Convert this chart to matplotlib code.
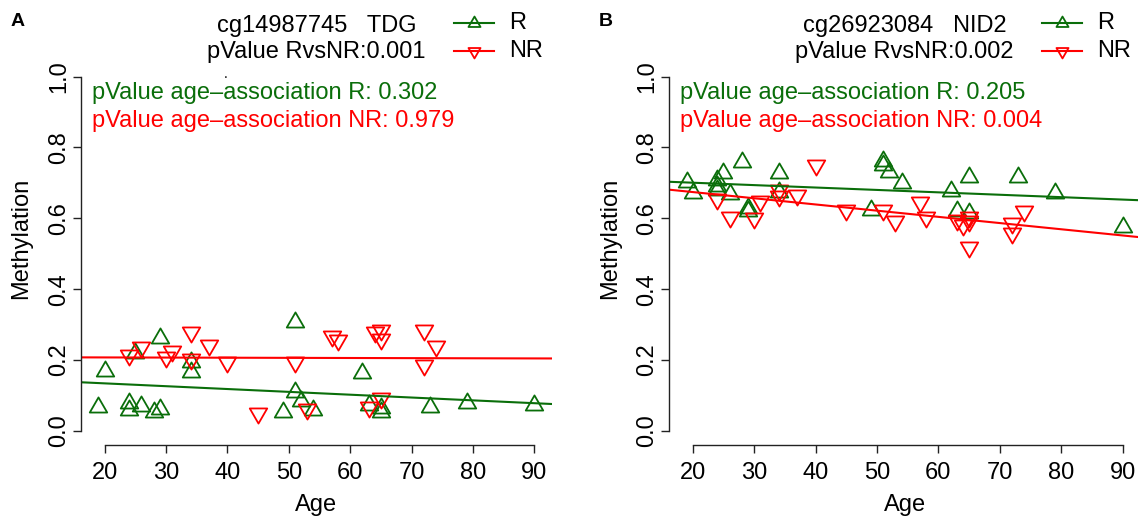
import numpy as np
import matplotlib
matplotlib.use("Agg")
import matplotlib.pyplot as plt
from matplotlib.path import Path
from matplotlib.lines import Line2D

plt.rcParams['font.family'] = ['Liberation Sans', 'DejaVu Sans']

# Panel A: cg14987745 TDG
ages_A_R = [19, 20, 24, 24, 25, 26, 28, 29, 29, 34, 34, 49, 51, 51, 52, 54, 62, 63, 65, 65, 73, 79, 90]
meth_A_R = [0.066, 0.170, 0.078, 0.059, 0.220, 0.069, 0.052, 0.063, 0.262, 0.193, 0.167, 0.052,
            0.308, 0.110, 0.085, 0.059, 0.163, 0.073, 0.052, 0.065, 0.068, 0.078, 0.074]
ages_A_NR = [24, 26, 30, 31, 34, 34, 37, 40, 45, 51, 53, 57, 58, 64, 65, 65, 63, 65, 72, 74, 72]
meth_A_NR = [0.214, 0.236, 0.207, 0.226, 0.280, 0.203, 0.242, 0.193, 0.050, 0.193, 0.061,
             0.267, 0.257, 0.280, 0.286, 0.259, 0.066, 0.094, 0.286, 0.240, 0.186]
fit_A_R = (0.150, -0.00080)    # intercept, slope
fit_A_NR = (0.208, -0.00004)

# Panel B: cg26923084 NID2
ages_B_R = [19, 20, 25, 24, 24, 24, 26, 28, 29, 29, 34, 34, 51, 51, 52, 54, 49, 62, 65, 63, 65, 73, 79, 90]
meth_B_R = [0.703, 0.670, 0.728, 0.707, 0.690, 0.681, 0.669, 0.759, 0.621, 0.630, 0.728, 0.674,
            0.763, 0.750, 0.731, 0.700, 0.624, 0.676, 0.716, 0.621, 0.615, 0.716, 0.670, 0.574]
ages_B_NR = [24, 26, 30, 31, 34, 34, 37, 40, 45, 51, 53, 57, 58, 63, 64, 65, 65, 65, 72, 72, 74]
meth_B_NR = [0.655, 0.605, 0.601, 0.650, 0.681, 0.662, 0.667, 0.749, 0.624, 0.624, 0.591,
             0.645, 0.605, 0.596, 0.582, 0.605, 0.591, 0.520, 0.587, 0.558, 0.620]
fit_B_R = (0.714, -0.00068)
fit_B_NR = (0.709, -0.00175)

panels = [
    dict(tag="A", probe="cg14987745   TDG", p_rvsnr="0.001", p_r="0.302", p_nr="0.979",
         aR=ages_A_R, mR=meth_A_R, aN=ages_A_NR, mN=meth_A_NR, fR=fit_A_R, fN=fit_A_NR, left=81.0),
    dict(tag="B", probe="cg26923084   NID2", p_rvsnr="0.002", p_r="0.205", p_nr="0.004",
         aR=ages_B_R, mR=meth_B_R, aN=ages_B_NR, mN=meth_B_NR, fR=fit_B_R, fN=fit_B_NR, left=669.2),
]

GREEN = "#0a6e0a"
RED = "#ff0000"
FS = 17

# R style open triangles (pch 2 / 6), centred on the centroid
tri = [(0, 1.555), (1.347, -0.778), (-1.347, -0.778), (0, 1.555)]
codes = [Path.MOVETO, Path.LINETO, Path.LINETO, Path.CLOSEPOLY]
up_tri = Path(tri, codes)
down_tri = Path([(x, -y) for x, y in tri], codes)

W, H = 1138, 517
fig = plt.figure(figsize=(W / 100, H / 100), dpi=100)

def fx(px):
    return px / W

def fy(py):
    return 1 - py / H

ax_w = 470.8
ax_top, ax_bot = 62.4, 445.0
MS = 14.5
MEW = 1.3

for p in panels:
    L = p["left"]
    ax = fig.add_axes([fx(L), fy(ax_bot), ax_w / W, (ax_bot - ax_top) / H])
    ax.set_xlim(16.16, 92.84)
    ax.set_ylim(-0.04, 1.04)

    ax.plot(p["aR"], p["mR"], linestyle="none", marker=up_tri, ms=MS,
            mfc="none", mec=GREEN, mew=MEW)
    ax.plot(p["aN"], p["mN"], linestyle="none", marker=down_tri, ms=MS,
            mfc="none", mec=RED, mew=MEW)
    ax.axline((0, p["fR"][0]), slope=p["fR"][1], color=GREEN, lw=1.5)
    ax.axline((0, p["fN"][0]), slope=p["fN"][1], color=RED, lw=1.5)

    for s in ["top", "right"]:
        ax.spines[s].set_visible(False)
    ax.spines["left"].set_bounds(0, 1)
    ax.spines["bottom"].set_bounds(20, 90)
    for s in ["left", "bottom"]:
        ax.spines[s].set_linewidth(1.0)
        ax.spines[s].set_color("#222222")

    ax.set_xticks(np.arange(20, 91, 10))
    ax.set_yticks([0, 0.2, 0.4, 0.6, 0.8, 1.0])
    ax.set_yticklabels(["0.0", "0.2", "0.4", "0.6", "0.8", "1.0"], rotation=90, va="center")
    ax.tick_params(axis="both", length=6, width=1.0, color="#222222", labelsize=FS)
    ax.tick_params(axis="x", pad=6)
    ax.tick_params(axis="y", pad=2)
    ax.set_xlabel("Age", fontsize=FS, labelpad=7.5)
    ax.set_ylabel("Methylation", fontsize=FS)
    ax.yaxis.set_label_coords(-0.103, 0.54)

    # title lines, centred over the plot
    cx = L + ax_w / 2
    fig.text(fx(cx), fy(31.7), p["probe"], ha="center", va="baseline", fontsize=FS)
    fig.text(fx(cx), fy(58.3), "pValue RvsNR:" + p["p_rvsnr"], ha="center", va="baseline", fontsize=FS)

    # legend
    for yy, col, mk, lab in [(23.3, GREEN, up_tri, "R"), (50.7, RED, down_tri, "NR")]:
        fig.add_artist(Line2D([fx(L + 373), fx(L + 412.5)], [fy(yy), fy(yy)], color=col, lw=1.5))
        fig.add_artist(Line2D([fx(L + 392.7)], [fy(yy)], marker=mk, ms=10, mfc="none",
                              mec=col, mew=1.3, linestyle="none"))
        fig.text(fx(L + 428), fy(yy), lab, ha="left", va="center", fontsize=FS)

    # age association p-values
    fig.text(fx(L + 11), fy(99), "pValue age\u2013association R: " + p["p_r"],
             color=GREEN, ha="left", va="baseline", fontsize=FS)
    fig.text(fx(L + 11), fy(126.7), "pValue age\u2013association NR: " + p["p_nr"],
             color=RED, ha="left", va="baseline", fontsize=FS)

    fig.text(fx(L - 70), fy(26), p["tag"], fontweight="bold", ha="left", va="baseline", fontsize=14)

# stray dot above the text in panel A
fig.text(fx(226), fy(78), ".", fontsize=10, ha="center", va="baseline")

fig.savefig("out.png", dpi=100)
